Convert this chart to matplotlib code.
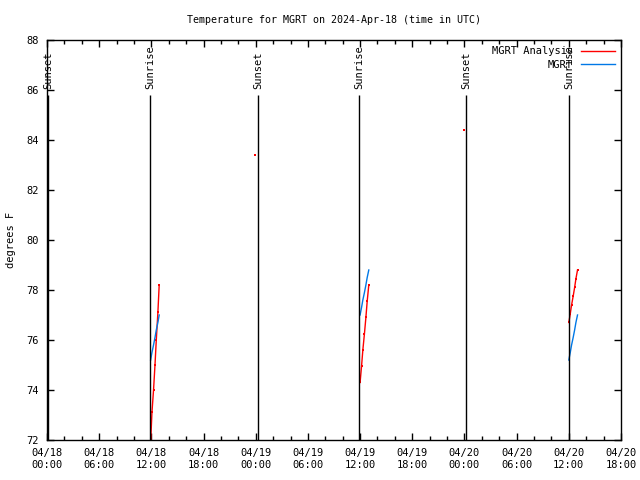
import numpy as np
import matplotlib
matplotlib.use('Agg')
import matplotlib.pyplot as plt
import matplotlib.dates as mdates
from matplotlib.ticker import MultipleLocator

plt.rcParams['font.family'] = 'DejaVu Sans Mono'
plt.rcParams['font.size'] = 7.5

# readings, times as hours from 2024-04-18 00:00 UTC
start = np.datetime64('2024-04-18T00:00')
nan = np.nan

analysis_hours = [11.92, 12.08, 12.25, 12.42, 12.58, 12.75, 12.91, 13.0,
                  23.95, 24.0,
                  36.0, 36.17, 36.33, 36.5, 36.67, 36.83, 37.0, 37.1,
                  47.98, 48.05,
                  60.0, 60.17, 60.33, 60.5, 60.67, 60.83, 61.0]
analysis_vals = [71.9, 73.1, 74.0, 75.0, 76.0, 77.1, 78.2, nan,
                 83.4, nan,
                 74.3, 74.95, 75.6, 76.25, 76.9, 77.55, 78.2, nan,
                 84.4, nan,
                 76.7, 77.05, 77.4, 77.75, 78.1, 78.45, 78.8]

obs_hours = [11.92, 12.08, 12.25, 12.42, 12.58, 12.75, 12.91, 13.0,
             36.0, 36.17, 36.33, 36.5, 36.67, 36.83, 37.0, 37.1,
             60.0, 60.17, 60.33, 60.5, 60.67, 60.83, 61.0]
obs_vals = [75.2, 75.5, 75.8, 76.1, 76.4, 76.7, 77.0, nan,
            77.0, 77.3, 77.6, 77.9, 78.2, 78.5, 78.8, nan,
            75.2, 75.5, 75.8, 76.1, 76.4, 76.7, 77.0]

sun_hours = [0.15, 11.85, 24.3, 35.9, 48.2, 60.0]
sun_labels = ['Sunset', 'Sunrise', 'Sunset', 'Sunrise', 'Sunset', 'Sunrise']


def to_time(hours):
    return start + (np.array(hours) * 60).astype(int).astype('timedelta64[m]')


fig = plt.figure(figsize=(6.4, 4.8), dpi=100)
ax = fig.add_axes([47 / 640, 40 / 480, 574 / 640, 400 / 480])

ta = to_time(analysis_hours)
to = to_time(obs_hours)
ax.plot(ta, analysis_vals, color='#ff0000', lw=1, marker='s', ms=1.5, mew=0,
        label='MGRT Analysis')
ax.plot(to, obs_vals, color='#0078e6', lw=1, label='MGRT')

ts = to_time(sun_hours)
ax.vlines(ts, 72, 85.8, color='black', lw=1)
for t, lab in zip(ts, sun_labels):
    ax.text(t, 86.05, lab, rotation=90, ha='center', va='bottom', fontsize=7.5)

ax.set_xlim(start, start + np.timedelta64(66, 'h'))
ax.set_ylim(72, 88)
ax.yaxis.set_major_locator(MultipleLocator(2))
ax.xaxis.set_major_locator(mdates.HourLocator(byhour=[0, 6, 12, 18]))
ax.xaxis.set_minor_locator(mdates.HourLocator(interval=2))
ax.xaxis.set_major_formatter(mdates.DateFormatter('%m/%d\n%H:%M'))
ax.tick_params(which='both', direction='in', top=True, right=True, width=1)
ax.tick_params(which='major', length=5, pad=6)
ax.tick_params(which='minor', length=3)
for s in ax.spines.values():
    s.set_linewidth(1)

ax.set_ylabel('degrees F')
ax.yaxis.set_label_coords(-31 / 574, 0.5)
ax.set_title('Temperature for MGRT on 2024-Apr-18 (time in UTC)', pad=12,
             fontsize=7.2)

leg = ax.legend(loc='upper right', frameon=False, markerfirst=False,
                handlelength=3.2, labelspacing=0.35, borderaxespad=0.2,
                fontsize=7.5)
for h in leg.legend_handles:
    h.set_marker('')

fig.savefig('out.png', dpi=100)
